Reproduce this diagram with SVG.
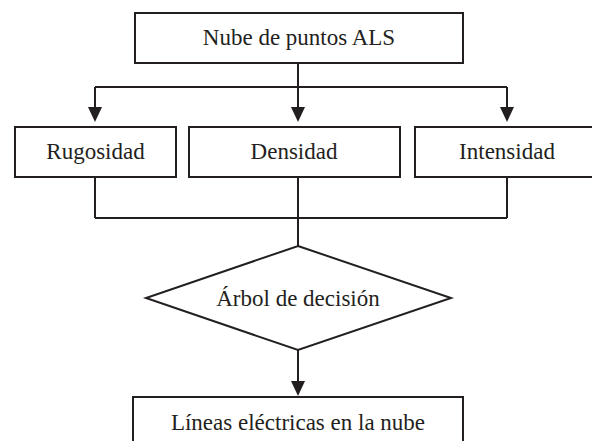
<svg xmlns="http://www.w3.org/2000/svg" width="592" height="441" viewBox="0 0 592 441">
<style>
.box{fill:#fff;stroke:#231f20;stroke-width:2}
.ln{fill:none;stroke:#231f20;stroke-width:2}
.ah{fill:#231f20;stroke:none}
.t{font-family:'Liberation Serif',serif;font-size:23px;fill:#231f20;text-anchor:middle}
</style>
<rect width="592" height="441" fill="#fff"/>
<g id="connectors">
<path class="ln" d="M298,64 V110"/>
<path class="ln" d="M95,87 H507"/>
<path class="ln" d="M95,87 V110"/>
<path class="ln" d="M507,87 V110"/>
<polygon class="ah" points="88,107 102,107 95,122"/>
<polygon class="ah" points="291,107 305,107 298,122"/>
<polygon class="ah" points="500,107 514,107 507,122"/>
<path class="ln" d="M95,178 V218 M298,178 V246 M507,178 V218 M95,218 H507"/>
<path class="ln" d="M298,350 V384"/>
<polygon class="ah" points="291,381 305,381 298,396"/>
</g>
<g font-family="Liberation Serif, serif" font-size="23">
<g id="n_nube">
<rect class="box" x="135" y="13" width="328" height="50"/>
<text class="t" x="299" y="45">Nube de puntos ALS</text>
</g>
<g id="n_rugosidad">
<rect class="box" x="15" y="127" width="161" height="50"/>
<text class="t" x="95.5" y="159">Rugosidad</text>
</g>
<g id="n_densidad">
<rect class="box" x="189" y="127" width="211" height="50"/>
<text class="t" x="294" y="159">Densidad</text>
</g>
<g id="n_intensidad">
<rect class="box" x="415" y="127" width="190" height="50"/>
<text class="t" x="507" y="159">Intensidad</text>
</g>
<g id="n_arbol">
<polygon class="box" points="298,246 451,298 298,350 146,298"/>
<text class="t" x="298" y="306">Árbol de decisión</text>
</g>
<g id="n_lineas">
<rect class="box" x="133" y="397" width="330" height="60"/>
<text class="t" x="298" y="430">Líneas eléctricas en la nube</text>
</g>
</g>
</svg>
